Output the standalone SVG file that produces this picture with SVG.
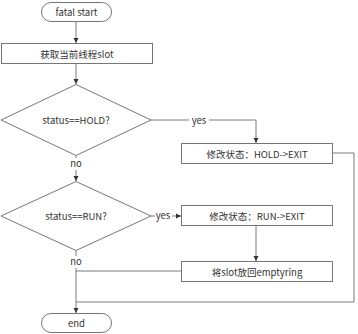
<svg xmlns="http://www.w3.org/2000/svg" width="358" height="334" viewBox="0 0 358 334">
<style>
.n{fill:#fff;stroke:#767676;stroke-width:1}
.t{font-family:"Noto Sans CJK SC","Noto Sans",sans-serif;font-size:9.5px;fill:#333;text-anchor:middle;dominant-baseline:central}
.e{fill:none;stroke:#7a7a7a;stroke-width:1}
.l{font-family:"Noto Sans CJK SC","Noto Sans",sans-serif;font-size:9.5px;fill:#333;text-anchor:middle;dominant-baseline:central}
</style>
<defs>
<marker id="a" markerWidth="6" markerHeight="6" refX="5" refY="3" orient="auto" markerUnits="userSpaceOnUse">
<path d="M0,0.5 L5,3 L0,5.5 Z" fill="#333"/>
</marker>
</defs>
<rect width="358" height="334" fill="#fff"/>
<g id="connectors">
<path class="e" d="M76,22 V43" marker-end="url(#a)"/>
<path class="e" d="M76,63 V84" marker-end="url(#a)"/>
<path class="e" d="M151,120 H256 V143" marker-end="url(#a)"/>
<path class="e" d="M76,156 V181" marker-end="url(#a)"/>
<path class="e" d="M151,216 H181" marker-end="url(#a)"/>
<path class="e" d="M256,226 V261" marker-end="url(#a)"/>
<path class="e" d="M76,251 V313" marker-end="url(#a)"/>
<path class="e" d="M181,271 H76"/>
<path class="e" d="M332,153 H354 V302 H76"/>
<rect x="189" y="114" width="20" height="12" fill="#fff"/>
<text class="l" x="199" y="120">yes</text>
<rect x="155" y="210" width="17" height="12" fill="#fff"/>
<text class="l" x="163" y="215">yes</text>
<rect x="68" y="158" width="16" height="12" fill="#fff"/>
<text class="l" x="76" y="163">no</text>
<rect x="68" y="256" width="16" height="12" fill="#fff"/>
<text class="l" x="76" y="261">no</text>
</g>
<g id="start">
<rect class="n" x="41.5" y="2.5" width="70" height="19" rx="9.5"/>
<text class="t" x="76.5" y="12">fatal start</text>
</g>
<g id="getslot">
<rect class="n" x="1.5" y="43.5" width="151" height="20"/>
<text class="t" x="77" y="53.5">获取当前线程slot</text>
</g>
<g id="hold">
<polygon class="n" points="76,84.5 151,120 76,155.5 1,120"/>
<text class="t" x="76" y="119.5">status==HOLD?</text>
</g>
<g id="holdexit">
<rect class="n" x="181.5" y="143.5" width="151" height="20"/>
<text class="t" x="257" y="153.5">修改状态：HOLD-&gt;EXIT</text>
</g>
<g id="run">
<polygon class="n" points="76,181.5 151,216 76,250.5 1,216"/>
<text class="t" x="76" y="215.5">status==RUN?</text>
</g>
<g id="runexit">
<rect class="n" x="181.5" y="205.5" width="151" height="20"/>
<text class="t" x="257" y="215.5">修改状态：RUN-&gt;EXIT</text>
</g>
<g id="putback">
<rect class="n" x="181.5" y="261.5" width="151" height="20"/>
<text class="t" x="257" y="271.5">将slot放回emptyring</text>
</g>
<g id="end">
<rect class="n" x="41.5" y="313.5" width="70" height="19" rx="9.5"/>
<text class="t" x="76.5" y="323">end</text>
</g>
</svg>
